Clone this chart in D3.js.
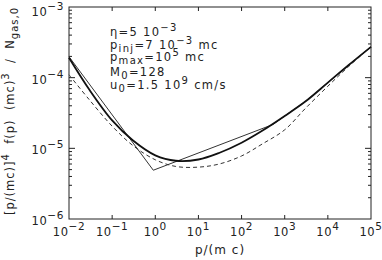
<!DOCTYPE html>
<html>
<head>
<meta charset="utf-8">
<script src="https://cdn.jsdelivr.net/npm/d3@7"></script>
<style>
  body { margin: 0; background: #fff; }
  text { font-family: "DejaVu Sans", "Liberation Sans", sans-serif; fill: #222; white-space: pre; }
</style>
</head>
<body>
<script>
// momentum grid (p/mc) and the two smooth spectra
const pGrid = [0.01, 0.03, 0.1, 0.3, 1, 3, 10, 30, 100, 300, 1000, 3000, 1e4, 3e4, 1e5];
const solidF = [1.91e-4, 6.67e-5, 2.48e-5, 1.30e-5, 7.96e-6, 6.67e-6, 6.95e-6, 8.59e-6,
                1.20e-5, 1.77e-5, 2.87e-5, 4.59e-5, 8.51e-5, 1.50e-4, 2.73e-4];
const dashF = [1.10e-4, 4.82e-5, 2.06e-5, 1.10e-5, 6.89e-6, 5.54e-6, 5.42e-6, 5.99e-6,
               7.80e-6, 1.15e-5, 1.83e-5, 3.66e-5, 7.57e-5, 1.43e-4, 2.73e-4];
// broken power law (thin line)
const brokenP = [0.01, 0.9, 540, 1000, 3000, 1e4, 3e4, 1e5];
const brokenF = [1.98e-4, 4.9e-6, 2.18e-5, 2.87e-5, 4.59e-5, 8.51e-5, 1.50e-4, 2.73e-4];

const xExps = [-2, -1, 0, 1, 2, 3, 4, 5];
const yExps = [-6, -5, -4, -3];

// annotation lines: [text, kind] pieces
const notes = [
  [["η=5 10", ""], ["−3", "sup"]],
  [["p", ""], ["inj", "sub"], ["=7 10", ""], ["−3", "sup"], [" mc", ""]],
  [["p", ""], ["max", "sub"], ["=10", ""], ["5", "sup"], [" mc", ""]],
  [["M", ""], ["0", "sub"], ["=128", ""]],
  [["u", ""], ["0", "sub"], ["=1.5 10", ""], ["9", "sup"], [" cm/s", ""]]
];
const yTitle = [["[p/(mc)]", ""], ["4", "sup"], ["  f(p)  (mc)", ""], ["3", "sup"], ["  /  N", ""], ["gas,0", "sub"]];
const xTitle = "p/(m c)";

const width = 382, height = 260;
const margin = { top: 7, right: 11, bottom: 41, left: 69 };

const svg = d3.select("body").append("svg")
  .attr("width", width)
  .attr("height", height);

const x = d3.scaleLog().domain([1e-2, 1e5]).range([margin.left, width - margin.right]);
const y = d3.scaleLog().domain([1e-6, 1e-3]).range([height - margin.bottom, margin.top]);

function rich(sel, parts, small, up, down) {
  let shift = 0;
  parts.forEach(([t, k]) => {
    const target = k === "sup" ? -up : k === "sub" ? down : 0;
    sel.append("tspan")
      .attr("dy", target - shift)
      .attr("font-size", k ? small : null)
      .text(t);
    shift = target;
  });
}

// frame
svg.append("rect")
  .attr("x", x(1e-2)).attr("y", y(1e-3))
  .attr("width", x(1e5) - x(1e-2))
  .attr("height", y(1e-6) - y(1e-3))
  .attr("fill", "none").attr("stroke", "#222").attr("stroke-width", 1);

// x ticks, decades only, inward on bottom and top
const xMajor = xExps.map(e => Math.pow(10, e)).slice(1, -1);
[[y(1e-6), -4], [y(1e-3), 4]].forEach(([y0, len]) => {
  svg.append("g")
    .selectAll("line")
    .data(xMajor)
    .enter().append("line")
    .attr("x1", d => x(d)).attr("x2", d => x(d))
    .attr("y1", y0).attr("y2", y0 + len)
    .attr("stroke", "#222");
});

// y ticks with minor ones, left and right
const yTicks = y.ticks().filter(d => d > 1e-6 * 1.001 && d < 1e-3 * 0.999);
const isMajor = d => Math.abs(Math.log10(d) - Math.round(Math.log10(d))) < 1e-6;
[x(1e-2), x(1e5)].forEach((x0, side) => {
  const dir = side === 0 ? 1 : -1;
  svg.append("g")
    .selectAll("line")
    .data(yTicks)
    .enter().append("line")
    .attr("x1", x0)
    .attr("x2", d => x0 + dir * (isMajor(d) ? 6 : 3))
    .attr("y1", d => y(d)).attr("y2", d => y(d))
    .attr("stroke", "#222");
});

// tick labels
xExps.forEach(e => {
  const t = svg.append("text")
    .attr("x", x(Math.pow(10, e)))
    .attr("y", 236)
    .attr("text-anchor", "middle")
    .attr("font-size", 11.5)
    .attr("letter-spacing", 0.6);
  rich(t, [["10", ""], [e < 0 ? "−" + (-e) : String(e), "sup"]], 10.5, 6, 0);
});
yExps.forEach(e => {
  const t = svg.append("text")
    .attr("x", 64)
    .attr("y", y(Math.pow(10, e)) + (e === -3 ? 9 : 6))
    .attr("text-anchor", "end")
    .attr("font-size", 11.5)
    .attr("letter-spacing", 0.6);
  rich(t, [["10", ""], ["−" + (-e), "sup"]], 10.5, 6, 0);
});

// axis titles
svg.append("text")
  .attr("x", (x(1e-2) + x(1e5)) / 2)
  .attr("y", 254)
  .attr("text-anchor", "middle")
  .attr("font-size", 12)
  .attr("letter-spacing", 1)
  .text(xTitle);

const yt = svg.append("text")
  .attr("transform", "translate(14,111) rotate(-90)")
  .attr("text-anchor", "middle")
  .attr("font-size", 11.5)
  .attr("letter-spacing", 1);
rich(yt, yTitle, 10, 5, 4);

// curves
const line = d3.line()
  .x(d => x(d[0]))
  .y(d => y(d[1]));

svg.append("path")
  .datum(pGrid.map((p, i) => [p, dashF[i]]))
  .attr("d", line.curve(d3.curveCatmullRom))
  .attr("fill", "none")
  .attr("stroke", "#333")
  .attr("stroke-width", 1)
  .attr("stroke-dasharray", "4,3");

svg.append("path")
  .datum(brokenP.map((p, i) => [p, brokenF[i]]))
  .attr("d", line.curve(d3.curveLinear))
  .attr("fill", "none")
  .attr("stroke", "#333")
  .attr("stroke-width", 1);

svg.append("path")
  .datum(pGrid.map((p, i) => [p, solidF[i]]))
  .attr("d", line.curve(d3.curveCatmullRom))
  .attr("fill", "none")
  .attr("stroke", "#111")
  .attr("stroke-width", 1.8);

// parameter notes
const noteY = [36, 49, 61, 76, 89];
notes.forEach((parts, i) => {
  const t = svg.append("text")
    .attr("x", 110)
    .attr("y", noteY[i])
    .attr("font-size", 11.5)
    .attr("letter-spacing", 1.3);
  rich(t, parts, 10, 5, 3);
});
</script>
</body>
</html>
